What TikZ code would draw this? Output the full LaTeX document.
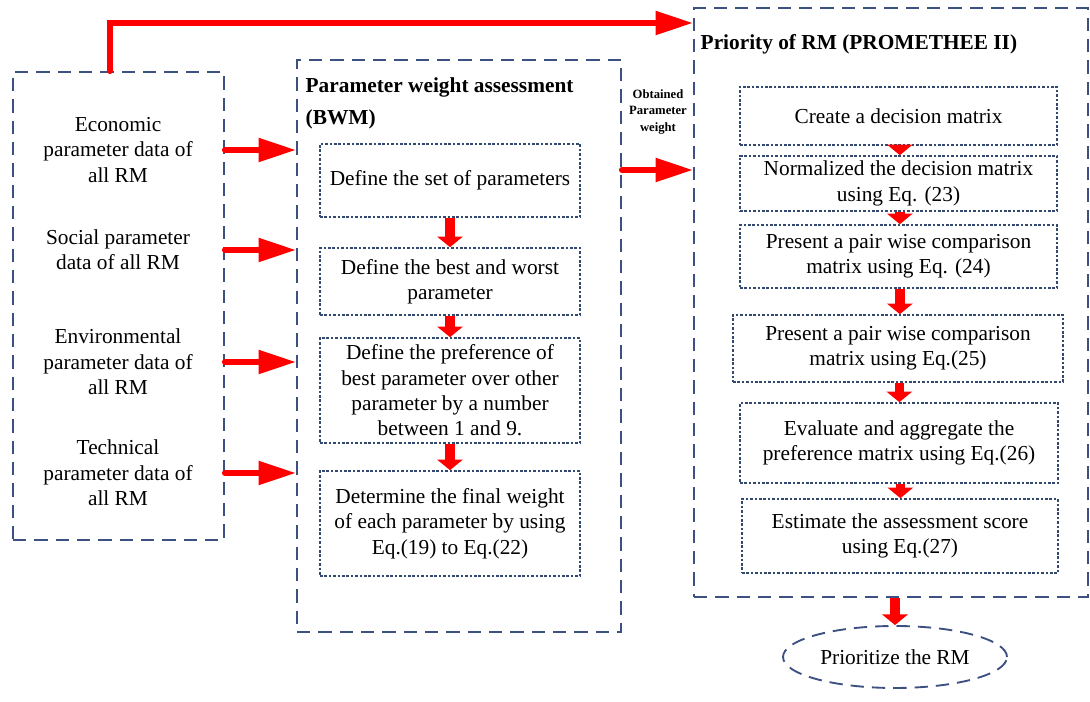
\documentclass[tikz,border=0pt]{standalone}
\usepackage{fontspec}
\setmainfont{Liberation Serif}
\usetikzlibrary{arrows.meta,shapes.geometric}
\definecolor{dashblue}{HTML}{3C5082}
\definecolor{dotblue}{HTML}{34496F}
\tikzset{
  outerbox/.style={draw=dashblue, line width=1.4pt, dash pattern=on 10pt off 6pt, inner sep=0pt},
  stepbox/.style={draw=dotblue, line width=1.2pt, dash pattern=on 2pt off 1.3pt, align=center, inner sep=0pt},
  datatext/.style={align=center},
  bigarrow/.style={red, line width=4.5pt, -{Triangle[length=28pt,width=17pt]}},
  downarrow/.style={red, line width=7pt, -{Triangle[length=8pt,width=19pt]}},
}
\begin{document}
\begin{tikzpicture}[x=0.75pt, y=-0.75pt, font=\fontsize{16}{19}\selectfont]
  \useasboundingbox (0,0) rectangle (1090,702);
  % outer boxes
  \node[outerbox, minimum width=158.25pt, minimum height=351pt] (lbox) at (118.5,306) {};
  \node[outerbox, minimum width=243pt, minimum height=429pt] (mbox) at (459,346) {};
  \node[outerbox, minimum width=295.5pt, minimum height=441.75pt] (rbox) at (891,302.5) {};
  % input data
  \node[datatext] (eco) at (118,150) {Economic\\parameter data of\\all RM};
  \node[datatext] (soc) at (118,250) {Social parameter\\data of all RM};
  \node[datatext] (env) at (118,362) {Environmental\\parameter data of\\all RM};
  \node[datatext] (tech) at (118,473) {Technical\\parameter data of\\all RM};
  % BWM
  \node[anchor=north west, align=left, font=\fontsize{16}{24}\selectfont\bfseries] (bwm) at (301,73)
    {Parameter weight assessment\\(BWM)};
  \node[stepbox, minimum width=195pt, minimum height=54.75pt] (b1) at (450,180.5) {Define the set of parameters};
  \node[stepbox, minimum width=195pt, minimum height=50.25pt] (b2) at (450,281.5) {Define the best and worst\\parameter};
  \node[stepbox, minimum width=195pt, minimum height=78.75pt] (b3) at (450,390.5)
    {Define the preference of\\best parameter over other\\parameter by a number\\between 1 and 9.};
  \node[stepbox, minimum width=195pt, minimum height=78.75pt] (b4) at (450,523.5)
    {Determine the final weight\\of each parameter by using\\Eq.(19) to Eq.(22)};
  \node[align=center, font=\fontsize{9.5}{12.5}\selectfont\bfseries] (obt) at (658,112) {Obtained\\Parameter\\weight};
  \coordinate (wt) at (657,170);
  % PROMETHEE II
  \node[anchor=west, font=\fontsize{16}{19}\selectfont\bfseries] (prom) at (696,44) {Priority of RM (PROMETHEE II)};
  \node[stepbox, minimum width=237.75pt, minimum height=43.5pt] (p1) at (898.5,116) {Create a decision matrix};
  \node[stepbox, minimum width=237.75pt, minimum height=41.25pt] (p2) at (898.5,183.5) {Normalized the decision matrix\\using Eq. (23)};
  \node[stepbox, minimum width=237.75pt, minimum height=47.25pt] (p3) at (898.5,256.5) {Present a pair wise comparison\\matrix using Eq. (24)};
  \node[stepbox, minimum width=247.5pt, minimum height=50.25pt] (p4) at (898,348.5) {Present a pair wise comparison\\matrix using Eq.(25)};
  \node[stepbox, minimum width=238.5pt, minimum height=60pt] (p5) at (899,443) {Evaluate and aggregate the\\preference matrix using Eq.(26)};
  \node[stepbox, minimum width=237pt, minimum height=55.5pt] (p6) at (900,536) {Estimate the assessment score\\using Eq.(27)};
  \node[ellipse, draw=dashblue, line width=1.4pt, dash pattern=on 10pt off 6pt, minimum width=168pt, minimum height=46.5pt] (prio) at (895,657) {Prioritize the RM};
  % connectors
  \coordinate (top) at (0,23);
  \draw[bigarrow, line cap=round] ([xshift=-6.4pt]lbox.north) |- (rbox.west |- top);
  \foreach \d in {eco,soc,env,tech}
    \draw[bigarrow, line cap=round] (lbox.east |- \d) -- (mbox.west |- \d);
  \draw[bigarrow, line cap=round] (mbox.east |- wt) -- (rbox.west |- wt);
  \foreach \a/\b in {b1/b2,b2/b3,b3/b4}
    \draw[downarrow] (\a.south) -- (\b.north);
  \foreach \a/\b in {p1/p2,p2/p3,p3/p4,p4/p5,p5/p6}
    \draw[downarrow] ([xshift=1pt]\a.south) -- ([xshift=1pt]\a.south |- \b.north);
  \draw[downarrow] (prio.north |- rbox.south) -- (prio.north);
\end{tikzpicture}
\end{document}
